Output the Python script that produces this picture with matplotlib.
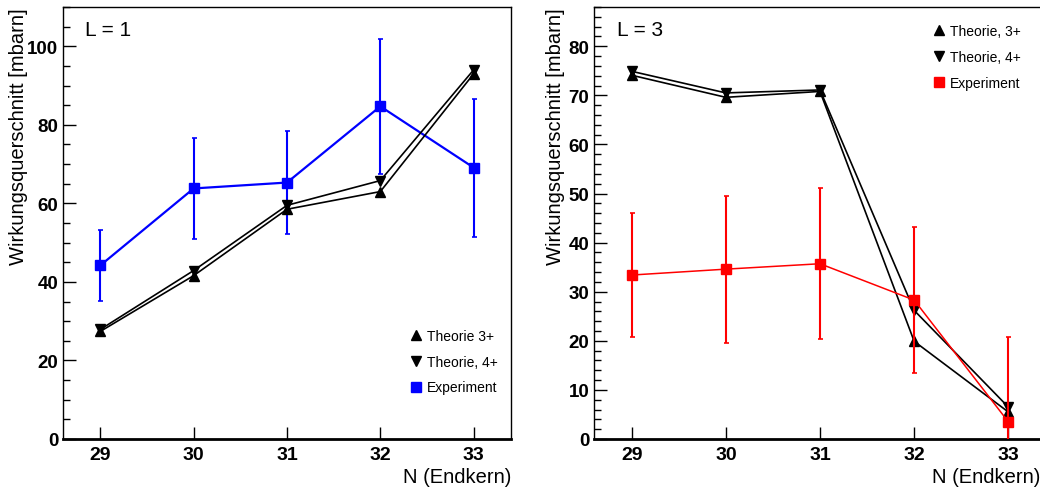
import matplotlib
matplotlib.use("Agg")
from matplotlib import pyplot as plt
from matplotlib.lines import Line2D
from matplotlib.ticker import MultipleLocator

plt.rcParams['font.family'] = ['Liberation Sans', 'DejaVu Sans']

# Neutronenzahl des Endkerns
n_end = [29, 30, 31, 32, 33]

# L = 1
theo3_l1 = [27.4, 41.6, 58.5, 63.0, 93.0]
theo4_l1 = [27.9, 42.9, 59.5, 65.8, 94.0]
exp_l1 = [44.2, 63.8, 65.3, 84.7, 69.1]
exp_l1_err = [9.0, 12.8, 13.0, 17.2, 17.6]

# L = 3
theo3_l3 = [74.1, 69.6, 70.8, 19.9, 5.5]
theo4_l3 = [74.9, 70.5, 71.1, 26.2, 6.5]
exp_l3 = [33.4, 34.6, 35.7, 28.3, 3.5]
exp_l3_err = [12.7, 15.0, 15.4, 14.8, 17.2]


def style_axes(ax, ymax, major, minor):
    ax.set_xlim(28.6, 33.4)
    ax.set_ylim(0, ymax)
    ax.xaxis.set_major_locator(MultipleLocator(1))
    ax.yaxis.set_major_locator(MultipleLocator(major))
    ax.yaxis.set_minor_locator(MultipleLocator(minor))
    ax.tick_params(axis='both', which='both', direction='in', top=False, right=False)
    ax.tick_params(axis='y', which='major', length=9, width=1, pad=3.5, labelsize=13.5)
    ax.tick_params(axis='y', which='minor', length=5, width=1)
    ax.tick_params(axis='x', which='major', length=9, width=1, pad=5, labelsize=14)
    for lab in ax.get_xticklabels() + ax.get_yticklabels():
        lab.set_fontweight('bold')
    for s in ('left', 'top', 'right'):
        ax.spines[s].set_linewidth(1.0)
    ax.spines['bottom'].set_linewidth(2.0)
    ax.set_ylabel('Wirkungsquerschnitt [mbarn]', fontsize=14.5, loc='top')
    ax.set_xlabel('N (Endkern)', fontsize=14.5, loc='right')


def draw_theory(ax, t3, t4, z):
    ax.plot(n_end, t3, color='black', lw=1.2, marker='^', ms=6.5, zorder=z)
    ax.plot(n_end, t4, color='black', lw=1.2, marker='v', ms=6.5, zorder=z)


def draw_exp(ax, vals, errs, col, lw, z):
    ax.errorbar(n_end, vals, yerr=errs, color=col, lw=lw, elinewidth=1.5,
                capsize=1.8, capthick=1.2, marker='s', ms=7, zorder=z)


def add_legend(ax, labels, col, x, y):
    handles = [Line2D([], [], color='black', marker='^', ls='none', ms=6.5),
               Line2D([], [], color='black', marker='v', ls='none', ms=6.5),
               Line2D([], [], color=col, marker='s', ls='none', ms=7)]
    ax.legend(handles, labels, loc='upper left', bbox_to_anchor=(x, y),
              frameon=False, fontsize=10, handlelength=1.0, handletextpad=0.3,
              borderpad=0, borderaxespad=0, labelspacing=0.85)


fig = plt.figure(figsize=(10.4, 4.89), dpi=100)
W, H = 1040.0, 489.0

ax1 = fig.add_axes([63 / W, 49 / H, 448 / W, 432 / H])
ax2 = fig.add_axes([594 / W, 49 / H, 452 / W, 432 / H])

# L = 1
draw_exp(ax1, exp_l1, exp_l1_err, '#0000ff', 1.6, 2)
draw_theory(ax1, theo3_l1, theo4_l1, 3)
style_axes(ax1, 110, 20, 5)
ax1.text(0.05, 0.97, 'L = 1', transform=ax1.transAxes, fontsize=15, va='top', ha='left')
ax1.yaxis.set_label_coords(-35 / 448, 1.0)
ax1.xaxis.set_label_coords(1.0, -28 / 432)
add_legend(ax1, ['Theorie 3+', 'Theorie, 4+', 'Experiment'], '#0000ff', 0.772, 0.255)

# L = 3
draw_theory(ax2, theo3_l3, theo4_l3, 2)
draw_exp(ax2, exp_l3, exp_l3_err, '#ff0000', 1.1, 3)
style_axes(ax2, 88, 10, 2)
ax2.text(0.05, 0.97, 'L = 3', transform=ax2.transAxes, fontsize=15, va='top', ha='left')
ax2.yaxis.set_label_coords(-29 / 452, 1.0)
ax2.xaxis.set_label_coords((1040 - 594) / 452, -28 / 432)
add_legend(ax2, ['Theorie, 3+', 'Theorie, 4+', 'Experiment'], '#ff0000', 0.747, 0.96)

fig.savefig('out.png', dpi=100)
